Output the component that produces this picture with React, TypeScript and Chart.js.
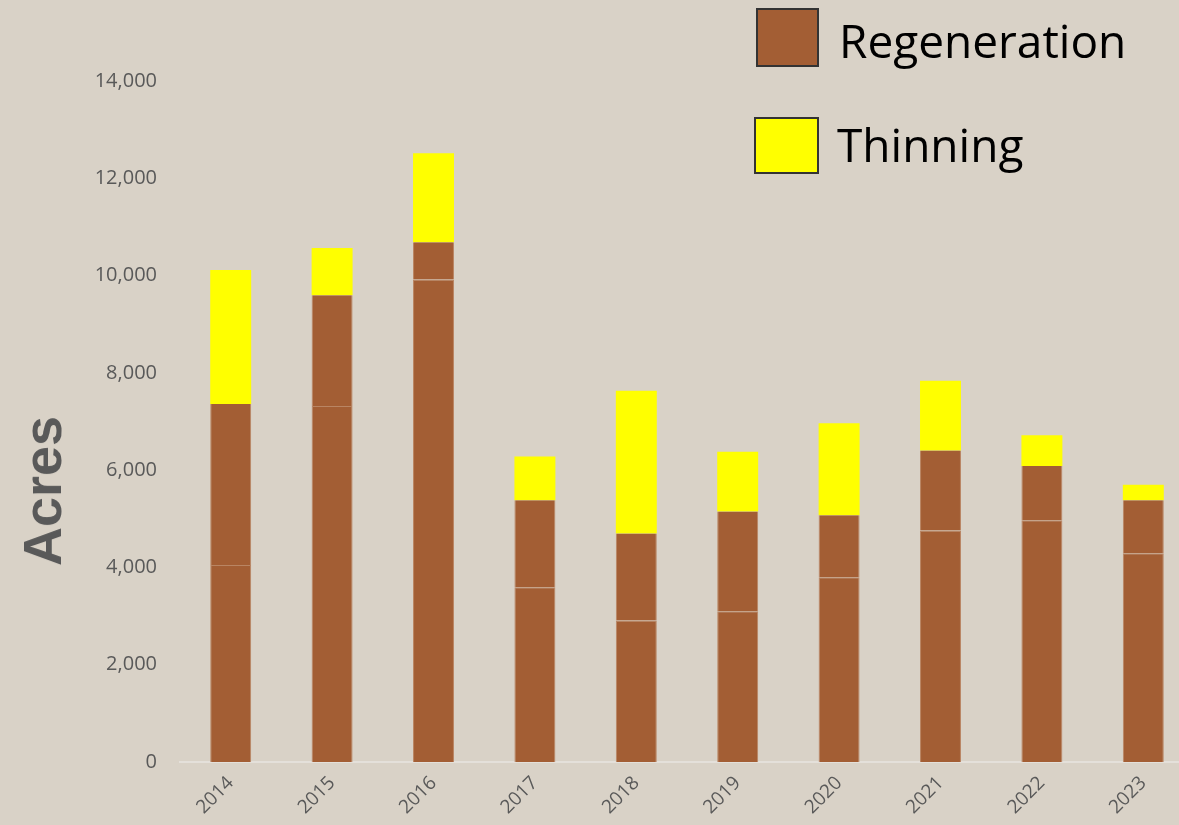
import React, { useEffect, useRef } from "react";
import { Chart, registerables } from "chart.js";

Chart.register(...registerables);

const years = ["2014", "2015", "2016", "2017", "2018", "2019", "2020", "2021", "2022", "2023"];
const regenerationLower = [4050, 7320, 9920, 3590, 2910, 3100, 3800, 4760, 4970, 4290];
const regenerationUpper = [3310, 2275, 767, 1789, 1788, 2050, 1275, 1645, 1116, 1090];
const thinning = [2754, 973, 1830, 904, 2933, 1226, 1891, 1431, 631, 321];
const yTicks = [0, 2000, 4000, 6000, 8000, 10000, 12000, 14000];

const BG = "#d9d2c7";
const BROWN = "#a35e34";
const SEG_LINE = "#b98563";
const YELLOW = "#ffff00";
const GRAY = "#595959";

export default function App() {
  const ref = useRef<HTMLCanvasElement | null>(null);

  useEffect(() => {
    document.body.style.margin = "0";
    document.body.style.overflow = "hidden";
    const canvas = ref.current;
    if (!canvas) return;
    const chart = new Chart(canvas, {
      type: "bar",
      data: {
        labels: years,
        datasets: [
          {
            label: "Regeneration",
            data: regenerationLower,
            backgroundColor: BROWN,
            borderColor: SEG_LINE,
            borderWidth: { top: 1, left: 1, right: 1, bottom: 0 },
            borderSkipped: false,
          },
          {
            label: "Regeneration (2)",
            data: regenerationUpper,
            backgroundColor: BROWN,
            borderColor: SEG_LINE,
            borderWidth: { top: 0, left: 1, right: 1, bottom: 0 },
            borderSkipped: false,
          },
          {
            label: "Thinning",
            data: thinning,
            backgroundColor: YELLOW,
            borderWidth: 0,
          },
        ],
      },
      options: {
        responsive: false,
        animation: false,
        maintainAspectRatio: false,
        layout: { padding: { top: 81, right: 6, bottom: 0, left: 0 } },
        datasets: { bar: { categoryPercentage: 1, barPercentage: 0.404 } },
        plugins: { legend: { display: false }, tooltip: { enabled: false } },
        scales: {
          x: {
            stacked: true,
            grid: { display: true, drawOnChartArea: false, drawTicks: false },
            border: { display: true, color: "#e4e0da", width: 2 },
            ticks: {
              color: GRAY,
              font: { family: "Open Sans", size: 19 },
              minRotation: 45,
              maxRotation: 45,
              padding: 10,
            },
            afterFit: (scale: any) => {
              scale.height = 63;
            },
          },
          y: {
            stacked: true,
            min: 0,
            max: 14000,
            afterBuildTicks: (scale: any) => {
              scale.ticks = yTicks.map((v) => ({ value: v }));
            },
            grid: { display: false, drawTicks: false },
            border: { display: false },
            ticks: {
              color: GRAY,
              font: { family: "Open Sans", size: 20 },
              padding: 23,
              callback: (v: any) => Number(v).toLocaleString("en-US"),
            },
            afterFit: (scale: any) => {
              scale.width = 180;
            },
          },
        },
      },
    });
    return () => chart.destroy();
  }, []);

  return (
    <div style={{ position: "relative", width: 1179, height: 825, overflow: "hidden", background: BG }}>
      <canvas ref={ref} width={1200} height={825} style={{ position: "absolute", left: 0, top: 0, width: 1200, height: 825 }} />
      <div
        style={{
          position: "absolute",
          left: 42,
          top: 491,
          transform: "translate(-50%, -50%) rotate(-90deg)",
          fontFamily: "'Liberation Sans', Arial, sans-serif",
          fontWeight: "bold",
          fontSize: 54,
          lineHeight: 1,
          color: GRAY,
          whiteSpace: "nowrap",
        }}
      >
        Acres
      </div>
      <div
        style={{
          position: "absolute",
          left: 756,
          top: 8,
          width: 59,
          height: 55,
          background: BROWN,
          border: "2px solid #333333",
        }}
      />
      <div
        style={{
          position: "absolute",
          left: 839,
          top: 17,
          fontFamily: "'Open Sans', sans-serif",
          fontSize: 46,
          lineHeight: 1,
          color: "#000",
          whiteSpace: "nowrap",
        }}
      >
        Regeneration
      </div>
      <div
        style={{
          position: "absolute",
          left: 754,
          top: 117,
          width: 61,
          height: 53,
          background: YELLOW,
          border: "2px solid #333333",
        }}
      />
      <div
        style={{
          position: "absolute",
          left: 837,
          top: 121,
          fontFamily: "'Open Sans', sans-serif",
          fontSize: 46,
          lineHeight: 1,
          color: "#000",
          whiteSpace: "nowrap",
        }}
      >
        Thinning
      </div>
    </div>
  );
}
